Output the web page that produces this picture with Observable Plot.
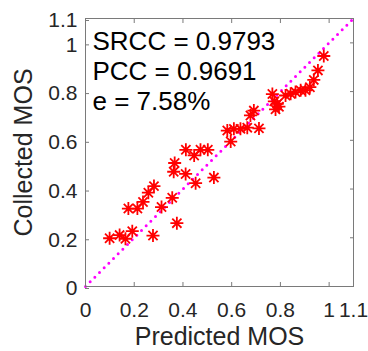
<!DOCTYPE html>
<html>
<head>
<meta charset="utf-8">
<script src="https://cdn.jsdelivr.net/npm/d3@7"></script>
<script src="https://cdn.jsdelivr.net/npm/@observablehq/plot@0.6"></script>
<style>
  html, body { margin: 0; padding: 0; background: #fff; }
  svg { display: block; }
</style>
</head>
<body>
<div id="chart"></div>
<script>
// Data
const predictedMOS = [0.099, 0.140, 0.164, 0.192, 0.277, 0.176, 0.213, 0.236, 0.258, 0.281,
  0.312, 0.356, 0.375, 0.362, 0.366, 0.411, 0.452, 0.527, 0.412, 0.446,
  0.472, 0.502, 0.596, 0.582, 0.609, 0.636, 0.664, 0.712, 0.677, 0.691,
  0.767, 0.787, 0.780, 0.794, 0.775, 0.821, 0.842, 0.862, 0.883, 0.903,
  0.921, 0.937, 0.954, 0.978];
const collectedMOS = [0.198, 0.211, 0.196, 0.227, 0.209, 0.320, 0.320, 0.347, 0.385, 0.412,
  0.326, 0.364, 0.260, 0.471, 0.507, 0.462, 0.424, 0.447, 0.561, 0.538,
  0.561, 0.561, 0.595, 0.640, 0.647, 0.647, 0.652, 0.649, 0.702, 0.722,
  0.790, 0.750, 0.727, 0.738, 0.760, 0.784, 0.791, 0.798, 0.805, 0.805,
  0.818, 0.848, 0.887, 0.946];
const xTicks = [0, 0.2, 0.4, 0.6, 0.8, 1, 1.1];
const yTicks = [0, 0.2, 0.4, 0.6, 0.8, 1, 1.1];
const diagonalX = [0, 1.1];
const diagonalY = [0, 1.1];
const statsLines = ["SRCC = 0.9793", "PCC = 0.9691", "e = 7.58%"];
const xLabel = "Predicted MOS";
const yLabel = "Collected MOS";

const points = predictedMOS.map((p, i) => ({p, c: collectedMOS[i]}));
const diag = diagonalX.map((x, i) => ({x, y: diagonalY[i]}));

// MATLAB-style '*' marker (plus + cross)
const asterisk = {
  draw(context, size) {
    const r = Math.sqrt(size / Math.PI);
    const d = r * Math.SQRT1_2;
    context.moveTo(-r, 0); context.lineTo(r, 0);
    context.moveTo(0, -r); context.lineTo(0, r);
    context.moveTo(-d, -d); context.lineTo(d, d);
    context.moveTo(-d, d); context.lineTo(d, -d);
  }
};

const fmt = d => String(d);
const font = "'Liberation Sans', Arial, Helvetica, sans-serif";
const axisGray = "#7a7a7a";
const textDark = "#262626";

const chart = Plot.plot({
  width: 368,
  height: 351,
  marginLeft: 85,
  marginRight: 15,
  marginTop: 18,
  marginBottom: 65,
  style: {fontFamily: font, background: "#fff", overflow: "visible"},
  x: {domain: [0, 1.1]},
  y: {domain: [0, 1.1]},
  marks: [
    Plot.line(diag, {x: "x", y: "y", stroke: "#ff00ff", strokeWidth: 3, strokeDasharray: "0 6.6", strokeLinecap: "round"}),
    Plot.dot(points, {x: "p", y: "c", symbol: asterisk, r: 6.5, stroke: "#ff0000", fill: "none", strokeWidth: 1.8}),
    Plot.frame({stroke: axisGray, strokeWidth: 1}),
    Plot.axisX({ticks: xTicks, tickFormat: fmt, tickSize: -4, tickPadding: 20, fontSize: 21, label: null, stroke: axisGray, fill: textDark}),
    Plot.axisX({anchor: "top", ticks: xTicks, tickFormat: () => "", tickSize: -4, label: null, stroke: axisGray}),
    Plot.axisY({ticks: yTicks, tickFormat: fmt, tickSize: -4, tickPadding: 12, dy: 2, fontSize: 21, label: null, stroke: axisGray, fill: textDark}),
    Plot.axisY({anchor: "right", ticks: yTicks, tickFormat: () => "", tickSize: -4, label: null, stroke: axisGray}),
    Plot.text([statsLines.join("\n")], {frameAnchor: "top-left", dx: 7, dy: 10, textAnchor: "start", lineAnchor: "top", lineHeight: 1.15, fontSize: 26, fill: "#000"}),
    Plot.text([xLabel], {frameAnchor: "bottom", dy: 41, lineAnchor: "top", fontSize: 25, fill: textDark}),
    Plot.text([yLabel], {frameAnchor: "left", dx: -62, rotate: -90, textAnchor: "middle", lineAnchor: "middle", fontSize: 25, fill: textDark})
  ]
});
document.getElementById("chart").append(chart);
</script>
</body>
</html>
